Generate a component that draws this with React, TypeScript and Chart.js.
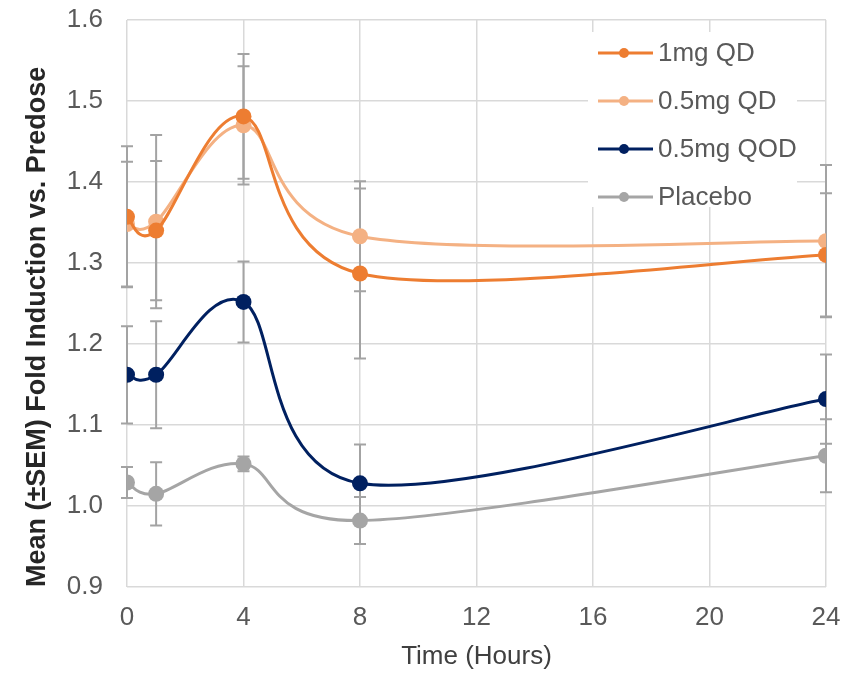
import React, { useEffect, useRef } from "react";
import { Chart, registerables } from "chart.js";

Chart.register(...registerables);

const hours = [0, 1, 4, 8, 24];
const seriesLabels = ["1mg QD", "0.5mg QD", "0.5mg QOD", "Placebo"];
const seriesColors = ["#ED7D31", "#F4B183", "#002060", "#A5A5A5"];

const qd1mg = [1.357, 1.34, 1.481, 1.287, 1.31];
const qd05mg = [1.348, 1.351, 1.47, 1.333, 1.327];
const qod05mg = [1.162, 1.162, 1.252, 1.028, 1.132];
const placebo = [1.029, 1.015, 1.052, 0.982, 1.062];

const qd1mgSem = [0.087, 0.086, 0.077, 0.105, 0.076];
const qd05mgSem = [0.077, 0.107, 0.073, 0.068, 0.094];
const qod05mgSem = [0.06, 0.066, 0.05, 0.048, 0.055];
const placeboSem = [0.019, 0.039, 0.009, 0.029, 0.045];

const xTicks = [0, 4, 8, 12, 16, 20, 24];
const yTicks = [0.9, 1.0, 1.1, 1.2, 1.3, 1.4, 1.5, 1.6];

const values = [qd1mg, qd05mg, qod05mg, placebo];
const sems = [qd1mgSem, qd05mgSem, qod05mgSem, placeboSem];

const FONT = '"Liberation Sans", Arial, sans-serif';

const smoothPlugin = {
  id: "excelSmooth",
  beforeDatasetsDraw(chart: any) {
    chart.data.datasets.forEach((_ds: any, i: number) => {
      const meta = chart.getDatasetMeta(i);
      const line = meta.dataset as any;
      if (!line) return;
      line.updateControlPoints(chart.chartArea, "x");
      const pts = meta.data as any[];
      const n = pts.length;
      for (let k = 0; k < n; k++) {
        const p = pts[k];
        const prev = pts[Math.max(0, k - 1)];
        const next = pts[Math.min(n - 1, k + 1)];
        const tx = (next.x - prev.x) / 6;
        const ty = (next.y - prev.y) / 6;
        p.cp1x = p.x - tx;
        p.cp1y = p.y - ty;
        p.cp2x = p.x + tx;
        p.cp2y = p.y + ty;
      }
      line._pointsUpdated = true;
      line._path = undefined;
    });
  },
};

const errorBarPlugin = {
  id: "errorBars",
  beforeDatasetsDraw(chart: any) {
    const ctx = chart.ctx;
    const xs = chart.scales.x;
    const ys = chart.scales.y;
    ctx.save();
    ctx.strokeStyle = "#A3A3A3";
    ctx.lineWidth = 2;
    sems.forEach((sem, si) => {
      sem.forEach((e, k) => {
        const v = values[si][k];
        const x = xs.getPixelForValue(hours[k]);
        const yTop = ys.getPixelForValue(v + e);
        const yBot = ys.getPixelForValue(v - e);
        ctx.beginPath();
        ctx.moveTo(x, yTop);
        ctx.lineTo(x, yBot);
        ctx.moveTo(x - 6, yTop);
        ctx.lineTo(x + 6, yTop);
        ctx.moveTo(x - 6, yBot);
        ctx.lineTo(x + 6, yBot);
        ctx.stroke();
      });
    });
    ctx.restore();
  },
};

const legendPlugin = {
  id: "boxLegend",
  afterDraw(chart: any) {
    const ctx = chart.ctx;
    ctx.save();
    ctx.fillStyle = "#FFFFFF";
    ctx.fillRect(588, 32, 209, 175);
    const rowY = [53, 101, 149, 197];
    chart.data.datasets.forEach((ds: any, i: number) => {
      const y = rowY[i];
      ctx.strokeStyle = ds.borderColor;
      ctx.lineWidth = 3;
      ctx.beginPath();
      ctx.moveTo(598, y);
      ctx.lineTo(653, y);
      ctx.stroke();
      ctx.fillStyle = ds.borderColor;
      ctx.beginPath();
      ctx.arc(624, y, 5, 0, Math.PI * 2);
      ctx.fill();
      ctx.fillStyle = "#595959";
      ctx.font = `26px ${FONT}`;
      ctx.textBaseline = "middle";
      ctx.textAlign = "left";
      ctx.fillText(ds.label, 658, y + 1);
    });
    ctx.restore();
  },
};

export default function App() {
  const ref = useRef<HTMLCanvasElement | null>(null);
  useEffect(() => {
    document.body.style.margin = "0";
    if (!ref.current) return;
    const chart = new Chart(ref.current, {
      type: "line",
      data: {
        datasets: values.map((vals, i) => ({
          label: seriesLabels[i],
          data: vals.map((v, k) => ({ x: hours[k], y: v })),
          borderColor: seriesColors[i],
          backgroundColor: seriesColors[i],
          pointBackgroundColor: seriesColors[i],
          pointBorderColor: seriesColors[i],
          pointRadius: 8,
          pointBorderWidth: 0,
          borderWidth: 3,
          tension: 0.4,
          fill: false,
        })),
      },
      options: {
        responsive: false,
        animation: false,
        layout: { padding: { top: 0, right: 30, left: 0, bottom: 0 } },
        plugins: {
          legend: { display: false },
          tooltip: { enabled: false },
        },
        scales: {
          x: {
            type: "linear",
            min: 0,
            max: 24,
            afterBuildTicks: (s: any) => {
              s.ticks = xTicks.map((v) => ({ value: v }));
            },
            afterFit: (s: any) => {
              s.height = 86;
            },
            grid: { color: "#D9D9D9", lineWidth: 1.5, drawTicks: false },
            border: { display: false },
            ticks: {
              padding: 15,
              color: "#595959",
              font: { size: 26, family: FONT },
              maxRotation: 0,
            },
            title: {
              display: true,
              text: "Time (Hours)",
              color: "#404040",
              font: { size: 26, family: FONT },
              padding: { top: 0, bottom: 1 },
            },
          },
          y: {
            type: "linear",
            min: 0.9,
            max: 1.6,
            afterBuildTicks: (s: any) => {
              s.ticks = yTicks.map((v) => ({ value: v }));
            },
            afterFit: (s: any) => {
              s.width = 127;
              s.paddingTop = 20;
              s.paddingBottom = 0;
            },
            grid: { color: "#D9D9D9", lineWidth: 1.5, drawTicks: false },
            border: { display: false },
            ticks: {
              padding: 24,
              color: "#595959",
              font: { size: 26, family: FONT },
              callback: (v: any) => Number(v).toFixed(1),
            },
            title: {
              display: true,
              text: "Mean (±SEM) Fold Induction vs. Predose",
              color: "#262626",
              align: "start",
              font: { size: 27, family: FONT, weight: "bold" },
              padding: { top: 21, bottom: 0 },
            },
          },
        },
      },
      plugins: [errorBarPlugin, smoothPlugin, legendPlugin],
    });
    return () => chart.destroy();
  }, []);
  return (
    <div style={{ width: 856, height: 673 }}>
      <canvas ref={ref} width={856} height={673} style={{ display: "block" }} />
    </div>
  );
}
